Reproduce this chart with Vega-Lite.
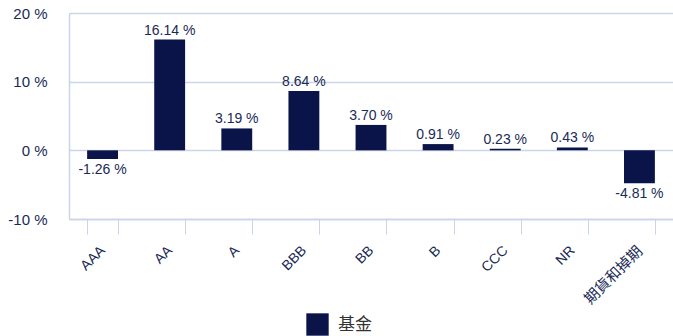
{
  "$schema": "https://vega.github.io/schema/vega-lite/v6.json",
  "autosize": {"type": "none"},
  "padding": {"left": 69, "top": 13, "right": 0, "bottom": 117},
  "width": 604,
  "height": 206,
  "background": "white",
  "config": {
    "font": "Liberation Sans, Noto Sans CJK TC",
    "view": {"stroke": null}
  },
  "data": {
    "values": [
      {"rating": "AAA", "value": -1.26, "series": "基金"},
      {"rating": "AA", "value": 16.14, "series": "基金"},
      {"rating": "A", "value": 3.19, "series": "基金"},
      {"rating": "BBB", "value": 8.64, "series": "基金"},
      {"rating": "BB", "value": 3.70, "series": "基金"},
      {"rating": "B", "value": 0.91, "series": "基金"},
      {"rating": "CCC", "value": 0.23, "series": "基金"},
      {"rating": "NR", "value": 0.43, "series": "基金"},
      {"rating": "期貨和掉期", "value": -4.81, "series": "基金"}
    ]
  },
  "transform": [
    {"calculate": "replace(format(datum.value, '.2f'), '\u2212', '-') + ' %'", "as": "label"}
  ],
  "encoding": {
    "x": {
      "field": "rating",
      "type": "nominal",
      "sort": null,
      "scale": {"paddingInner": 0.54, "paddingOuter": 0.27},
      "axis": {
        "title": null,
        "labelAngle": -45,
        "labelAlign": "right",
        "labelBaseline": "middle",
        "labelFontSize": {"condition": {"test": "datum.value == '期貨和掉期'", "value": 15}, "value": 14},
        "labelColor": "#1a2a55",
        "labelPadding": 14,
        "labelOverlap": false,
        "bandPosition": 0,
        "tickBand": "extent",
        "ticks": true,
        "tickSize": 15,
        "tickColor": "#c9d5e6",
        "domainColor": "#c9d5e6",
        "domainWidth": 1.5,
        "grid": false
      }
    },
    "y": {
      "field": "value",
      "type": "quantitative",
      "scale": {"domain": [-10, 20], "nice": false},
      "axis": {
        "title": null,
        "values": [-10, 0, 10, 20],
        "labelExpr": "datum.value + ' %'",
        "labelFontSize": 15,
        "labelColor": "#1a2a55",
        "labelPadding": 22,
        "ticks": false,
        "domain": true,
        "domainColor": "#c9d5e6",
        "domainWidth": 1.5,
        "grid": true,
        "gridColor": "#c9d5e6",
        "gridWidth": 1.5
      }
    }
  },
  "layer": [
    {
      "mark": {"type": "bar", "color": "#0a1448"},
      "encoding": {
        "color": {
          "field": "series",
          "type": "nominal",
          "scale": {"range": ["#0a1448"]},
          "legend": {
            "title": null,
            "orient": "none",
            "legendX": 237,
            "legendY": 300,
            "symbolType": "square",
            "symbolSize": 500,
            "symbolStrokeWidth": 0,
            "labelFontSize": 17,
            "labelColor": "#333333",
            "labelOffset": 9
          }
        }
      }
    },
    {
      "transform": [{"filter": "datum.value >= 0"}],
      "mark": {"type": "text", "baseline": "bottom", "dy": -2, "fontSize": 14, "color": "#1a2a55"},
      "encoding": {
        "text": {"field": "label", "type": "nominal"}
      }
    },
    {
      "transform": [{"filter": "datum.value < 0"}],
      "mark": {"type": "text", "baseline": "top", "dy": 4, "fontSize": 14, "color": "#1a2a55"},
      "encoding": {
        "text": {"field": "label", "type": "nominal"}
      }
    }
  ]
}
